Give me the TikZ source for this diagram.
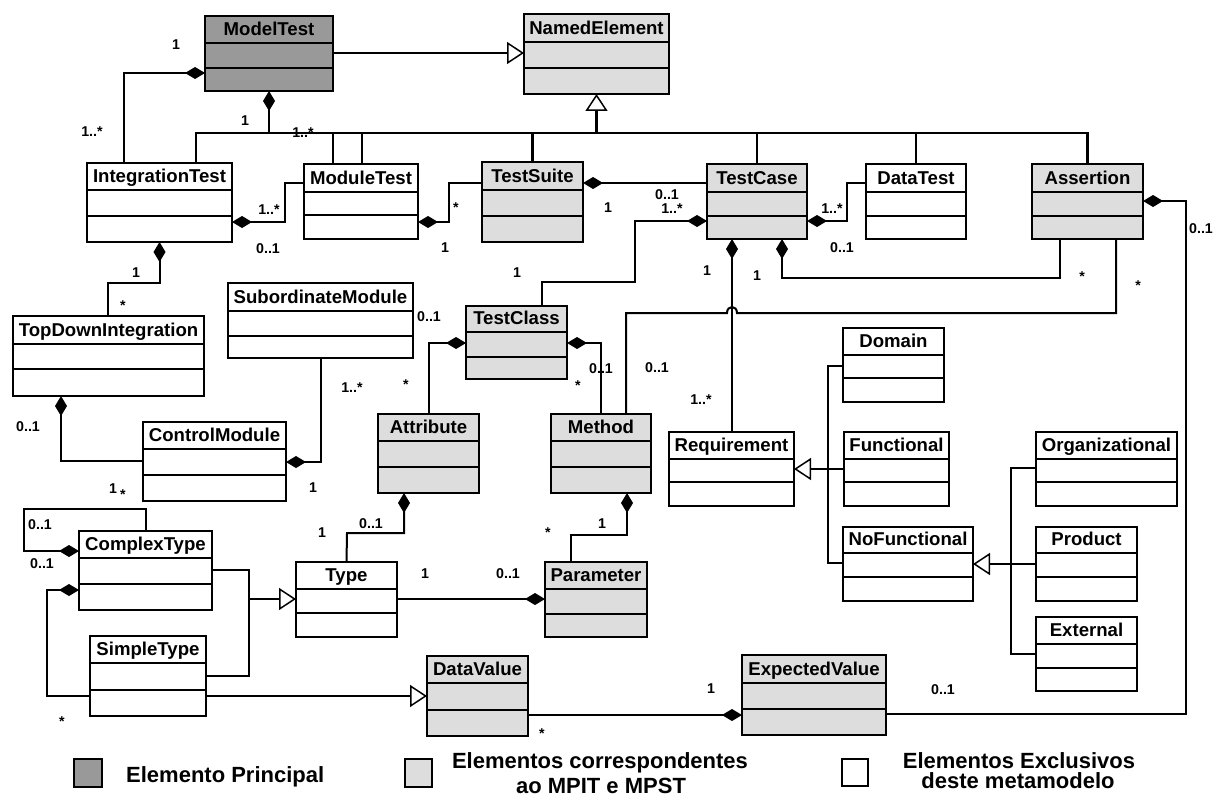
\documentclass[tikz,border=0pt]{standalone}
\usepackage{fontspec}
\setmainfont{Liberation Sans}
\usetikzlibrary{arrows.meta}

\definecolor{mainfill}{RGB}{153,153,153}
\definecolor{sharedfill}{RGB}{221,221,221}

\tikzset{
  clsbox/.style={draw, rectangle, line width=2.4pt, inner sep=0pt, outer sep=0pt},
  clsrule/.style={line width=2.4pt},
  clstitle/.style={anchor=base, inner sep=0pt, font=\fontsize{18.6}{20}\selectfont\bfseries},
  mult/.style={anchor=base, inner sep=0pt, font=\fontsize{14.2}{16}\selectfont\bfseries},
  conn/.style={line width=2pt, line join=miter},
  busline/.style={line width=2.6pt},
  comp/.style={conn, arrows={Diamond[length=20pt,width=12pt]-}},
  gen/.style={conn, arrows={-Triangle[length=17pt,width=22pt,fill=white,line width=1.5pt]}},
  legendtext/.style={anchor=base, inner sep=0pt, font=\fontsize{22}{26}\selectfont\bfseries},
}

% class box: name, x1, y1, x2, y2, first rule, second rule, fill, title
\newcommand\umlclass[9]{%
  \node[clsbox, fill=#8, minimum width={(#4-#2)*1pt}, minimum height={(#5-#3)*1pt},
        anchor=north west] (#1) at (#2,#3) {};
  \draw[clsrule] (#2,#6) -- (#4,#6) (#2,#7) -- (#4,#7);
  \node[clstitle] (#1-t) at ({(#2+#4)/2},{#6-7.5}) {#9};
}

\begin{document}
\begin{tikzpicture}[x=1pt, y=-1pt]
\useasboundingbox (0,0) rectangle (1223,797);

% ---------- classes ----------
\umlclass{mt}{205}{16}{333}{91}{43}{68}{mainfill}{ModelTest}
\umlclass{ne}{524}{14}{669}{94}{42}{68}{sharedfill}{NamedElement}
\umlclass{it}{87}{163}{232}{242}{190}{216}{white}{IntegrationTest}
\umlclass{modt}{304}{164}{418}{239}{192}{215}{white}{ModuleTest}
\umlclass{ts}{482}{162}{583}{242}{190}{216}{sharedfill}{TestSuite}
\umlclass{tc}{707}{164}{807}{239}{192}{216}{sharedfill}{TestCase}
\umlclass{dt}{866}{164}{966}{239}{192}{216}{white}{DataTest}
\umlclass{as}{1032}{164}{1143}{239}{192}{216}{sharedfill}{Assertion}
\umlclass{tdi}{13}{316}{204}{396}{344}{369}{white}{TopDownIntegration}
\umlclass{sm}{228}{283}{413}{358}{311}{336}{white}{SubordinateModule}
\umlclass{tcl}{466}{306}{567}{379}{332}{357}{sharedfill}{TestClass}
\umlclass{cm}{143}{422}{286}{501}{449}{475}{white}{ControlModule}
\umlclass{att}{378}{414}{479}{493}{441}{467}{sharedfill}{Attribute}
\umlclass{meth}{551}{414}{651}{493}{441}{467}{sharedfill}{Method}
\umlclass{req}{669}{432}{794}{506}{459}{482}{white}{Requirement}
\umlclass{dom}{843}{328}{944}{402}{355}{378}{white}{Domain}
\umlclass{fun}{844}{432}{949}{506}{459}{482}{white}{Functional}
\umlclass{org}{1036}{432}{1177}{506}{459}{482}{white}{Organizational}
\umlclass{nof}{843}{527}{973}{601}{553}{577}{white}{NoFunctional}
\umlclass{prod}{1036}{527}{1137}{601}{553}{577}{white}{Product}
\umlclass{ext}{1036}{617}{1137}{691}{644}{668}{white}{External}
\umlclass{ct}{79}{531}{212}{610}{558}{584}{white}{ComplexType}
\umlclass{st}{90}{636}{206}{716}{663}{690}{white}{SimpleType}
\umlclass{ty}{296}{562}{397}{637}{589}{613}{white}{Type}
\umlclass{par}{545}{562}{647}{637}{589}{614}{sharedfill}{Parameter}
\umlclass{dv}{427}{656}{528}{736}{683}{710}{sharedfill}{DataValue}
\umlclass{ev}{742}{655}{886}{735}{683}{709}{sharedfill}{ExpectedValue}

% ---------- generalisation to NamedElement ----------
\draw[gen] (mt.east |- 0,53) -- (ne.west |- 0,53);
\draw[busline] (it.north -| 196,0) |- (as.north |- 0,133) -- (as.north);
\draw[busline] (modt.north -| 362,0) -- (362,133);
\draw[busline] (ts.north) -- (ts.north |- 0,133);
\draw[busline] (tc.north) -- (tc.north |- 0,133);
\draw[busline] (dt.north) -- (dt.north |- 0,133);
\draw[gen, line width=2.6pt] (ne.south |- 0,133) -- (ne.south);

% ---------- compositions, upper part ----------
\draw[comp] (mt.west |- 0,73) -| (it.north -| 124,0);
\draw[comp] (mt.south -| 269,0) |- (333,133) -- (modt.north -| 333,0);
\draw[comp] (it.east |- 0,222) -| (285,183) -- (modt.west |- 0,183);
\draw[comp] (modt.east |- 0,222) -| (449,183) -- (ts.west |- 0,183);
\draw[comp] (ts.east |- 0,183) -- (tc.west |- 0,183);
\draw[comp] (tc.west |- 0,221) -| (635,282) -| (tcl.north -| 542,0);
\draw[comp] (tc.east |- 0,221) -| (847,183) -- (dt.west |- 0,183);
\draw[comp] (tc.south -| 732,0) -- (req.north -| 732,0);
\draw[comp] (tc.south -| 782,0) |- (1060,278) -- (as.south -| 1060,0);
\draw[conn] (meth.north -| 626,0) |- (727,313)
   .. controls (727,305) and (737,305) .. (737,313) -| (as.south -| 1116,0);
\draw[comp] (as.east |- 0,201) -| (1186,714) -- (ev.east |- 0,714);

% ---------- test class members ----------
\draw[comp] (tcl.west |- 0,343) -| (att.north);
\draw[comp] (tcl.east |- 0,343) -| (meth.north);

% ---------- integration ----------
\draw[comp] (it.south) |- (108,283) -- (tdi.north -| 108,0);
\draw[comp] (tdi.south -| 61,0) |- (cm.west |- 0,461);
\draw[comp] (cm.east |- 0,462) -| (sm.south);

% ---------- types ----------
\draw[comp] (ct.west |- 0,551) -| (24,509) -| (ct.north);
\draw[comp] (ct.west |- 0,590) -| (47,696) -- (st.west |- 0,696);
\draw[conn] (ct.east |- 0,570) -| (249,676) -- (st.east |- 0,676);
\draw[gen] (249,599) -- (ty.west |- 0,599);
\draw[comp] (att.south -| 404,0) |- (347,533) -- (ty.north);
\draw[comp] (meth.south -| 627,0) |- (571,535) -- (par.north -| 571,0);
\draw[comp] (par.west |- 0,599) -- (ty.east |- 0,599);
\draw[gen] (st.east |- 0,696) -- (dv.west |- 0,696);
\draw[comp] (ev.west |- 0,715) -- (dv.east |- 0,715);

% ---------- requirements ----------
\draw[conn] (dom.west |- 0,366) -| (828,563) -- (nof.west |- 0,563);
\draw[gen] (fun.west |- 0,469) -- (req.east |- 0,469);
\draw[conn] (org.west |- 0,468) -| (1011,654) -- (ext.west |- 0,654);
\draw[gen] (prod.west |- 0,564) -- (nof.east |- 0,564);

% ---------- multiplicities ----------
\node[mult] (m1)  at (176,50)  {1};
\node[mult] (m2)  at (92,136)  {1..*};
\node[mult] (m3)  at (245,125) {1};
\node[mult] (m4)  at (303,138) {1..*};
\node[mult] (m5)  at (269,214) {1..*};
\node[mult] (m6)  at (268,253) {0..1};
\node[mult] (m7)  at (456,212) {*};
\node[mult] (m8)  at (608,212) {1};
\node[mult] (m9)  at (445,252) {1};
\node[mult] (m10) at (667,199) {0..1};
\node[mult] (m11) at (672,213) {1..*};
\node[mult] (m12) at (832,213) {1..*};
\node[mult] (m13) at (842,252) {0..1};
\node[mult] (m14) at (1201,233) {0..1};
\node[mult] (m15) at (707,275) {1};
\node[mult] (m16) at (757,280) {1};
\node[mult] (m17) at (1082,281) {*};
\node[mult] (m18) at (1138,290) {*};
\node[mult] (m19) at (517,277) {1};
\node[mult] (m20) at (601,373) {0..1};
\node[mult] (m21) at (657,372) {0..1};
\node[mult] (m22) at (701,404) {1..*};
\node[mult] (m23) at (578,390) {*};
\node[mult] (m24) at (406,389) {*};
\node[mult] (m25) at (136,277) {1};
\node[mult] (m26) at (123,310) {*};
\node[mult] (m27) at (28,431)  {0..1};
\node[mult] (m28) at (113,493) {1};
\node[mult] (m28s) at (123,499) {*};
\node[mult] (m29) at (352,392) {1..*};
\node[mult] (m30) at (313,492) {1};
\node[mult] (m31) at (429,321) {0..1};
\node[mult] (m32) at (40,529)  {0..1};
\node[mult] (m33) at (42,568)  {0..1};
\node[mult] (m34) at (62,726)  {*};
\node[mult] (m35) at (322,537) {1};
\node[mult] (m36) at (371,528) {0..1};
\node[mult] (m37) at (548,537) {*};
\node[mult] (m38) at (602,528) {1};
\node[mult] (m39) at (425,578) {1};
\node[mult] (m40) at (508,578) {0..1};
\node[mult] (m41) at (711,693) {1};
\node[mult] (m42) at (542,738) {*};
\node[mult] (m43) at (943,694) {0..1};

% ---------- legend ----------
\node[clsbox, line width=2pt, fill=mainfill, minimum width=28pt, minimum height=28pt, anchor=north west] (lgmain) at (74,759) {};
\node[clsbox, line width=2pt, fill=sharedfill, minimum width=27pt, minimum height=28pt, anchor=north west] (lgshared) at (405,759) {};
\node[clsbox, line width=2pt, fill=white, minimum width=26pt, minimum height=27pt, anchor=north west] (lgown) at (842,759) {};
\node[legendtext, anchor=base west] (lgmaintxt) at (126,782) {Elemento Principal};
\node[legendtext] (lgsharedtxt1) at (600,768) {Elementos correspondentes};
\node[legendtext] (lgsharedtxt2) at (601,793) {ao MPIT e MPST};
\node[legendtext] (lgowntxt1) at (1019,768) {Elementos Exclusivos};
\node[legendtext] (lgowntxt2) at (1018,788) {deste metamodelo};
\end{tikzpicture}
\end{document}
